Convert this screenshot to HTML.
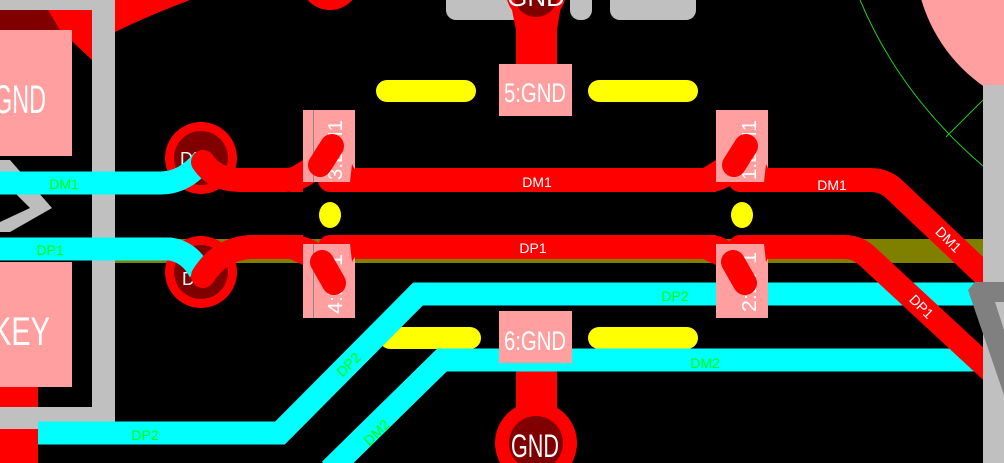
<!DOCTYPE html>
<html><head><meta charset="utf-8"><style>
html,body{margin:0;padding:0;background:#000;overflow:hidden}
svg{display:block}
text{font-family:"Liberation Sans",sans-serif}
</style></head><body>
<svg width="1004" height="463" viewBox="0 0 1004 463" xmlns="http://www.w3.org/2000/svg">
<rect width="1004" height="463" fill="#000"/>
<rect x="115" y="239" width="870" height="24" fill="#808000"/>
<path d="M115 0 L190 0 Q150 15 115 32 Z" fill="#f00"/>
<circle cx="330" cy="-20" r="30" fill="#f00"/>
<rect x="0" y="0" width="92" height="30" fill="#800000"/>
<path d="M48 10 L92 10 L92 60 L60 30 Z" fill="#f00"/>
<rect x="0" y="30" width="72" height="126" fill="#ff9f9f"/>
<rect x="0" y="262" width="72" height="125" fill="#ff9f9f"/>
<rect x="0" y="387" width="38" height="20" fill="#f00"/>
<rect x="0" y="428" width="38" height="35" fill="#f00"/>
<path d="M0 160 L10 160 L52 208 L10 232 L0 232 L0 222 L30 208 L0 178 Z" fill="#bdbdbd"/>
<rect x="92" y="0" width="23" height="430" fill="#c0c0c0"/>
<rect x="0" y="0" width="115" height="10" fill="#c0c0c0"/>
<rect x="0" y="407" width="115" height="22" fill="#c0c0c0"/>
<text x="-6" y="113" font-size="40" fill="#fff" textLength="52" lengthAdjust="spacingAndGlyphs">GND</text>
<text x="-8" y="345" font-size="40" fill="#fff" textLength="58" lengthAdjust="spacingAndGlyphs">KEY</text>
<rect x="446" y="-10" width="80" height="30" rx="10" fill="#c0c0c0"/>
<rect x="570" y="-10" width="22" height="30" rx="10" fill="#c0c0c0"/>
<rect x="610" y="-10" width="86" height="30" rx="10" fill="#c0c0c0"/>
<path d="M516 64 L516 30 L510 0 L562 0 L557 30 L557 64 Z" fill="#f00"/>
<circle cx="536" cy="-8" r="30" fill="#f00"/>
<circle cx="536" cy="-5" r="22" fill="#800000"/>
<text x="536" y="6" font-size="26" fill="#fff" text-anchor="middle">GND</text>
<rect x="516" y="360" width="41" height="60" fill="#f00"/>
<circle cx="536" cy="443" r="41" fill="#f00"/>
<circle cx="536" cy="443" r="27" fill="#800000"/>
<text x="535" y="457" font-size="32" fill="#fff" text-anchor="middle" textLength="48" lengthAdjust="spacingAndGlyphs">GND</text>
<g stroke="#ff0" stroke-width="22" stroke-linecap="round">
<line x1="387" y1="91" x2="465" y2="91"/>
<line x1="599" y1="91" x2="687" y2="91"/>
<line x1="390" y1="338" x2="470" y2="338"/>
<line x1="599" y1="338" x2="687" y2="338"/>
</g>
<ellipse cx="330" cy="215" rx="11" ry="13" fill="#ff0"/>
<ellipse cx="742" cy="215" rx="11" ry="13" fill="#ff0"/>
<g fill="none" stroke="#0ff" stroke-width="23">
<path d="M38 433 L280 433 L418 294 L985 294"/>
<path d="M330 470 L442 360 L985 360"/>
</g>
<circle cx="201" cy="158" r="36" fill="#f00"/>
<circle cx="201" cy="158" r="27" fill="#800000"/>
<circle cx="201" cy="272" r="36" fill="#f00"/>
<circle cx="201" cy="272" r="27" fill="#800000"/>
<text x="180" y="165" font-size="18" fill="#fff">DM</text>
<text x="182" y="285" font-size="18" fill="#fff">DP</text>
<path d="M0 183 L160 183 Q185 183 203 160" fill="none" stroke="#0ff" stroke-width="23"/>
<path d="M0 249 L170 249 Q190 252 200 272" fill="none" stroke="#0ff" stroke-width="23"/>
<!-- red traces under pads -->
<g fill="none" stroke="#f00" stroke-width="24" stroke-linecap="round" stroke-linejoin="round">
<path d="M203 162 Q215 180 240 180 L285 180 Q305 180 320 160"/>
<path d="M203 276 Q220 249 250 247 L290 247 Q310 247 322 262"/>
<path d="M330 180 L710 180 Q722 180 732 168"/>
<path d="M330 247 L710 247 Q720 247 728 256"/>
<path d="M740 180 L870 180 Q885 180 895 190 L990 280"/>
<path d="M740 247 L845 247 Q858 247 868 257 L990 370"/>
</g>
<rect x="303" y="110" width="52" height="72" fill="#ff9f9f"/>
<rect x="303" y="244" width="52" height="74" fill="#ff9f9f"/>
<rect x="716" y="110" width="52" height="72" fill="#ff9f9f"/>
<rect x="716" y="244" width="52" height="74" fill="#ff9f9f"/>
<!-- flares -->
<path d="M352 164 Q358 178 372 180 L372 192 L355 192 L350 182 Z" fill="#f00"/>
<path d="M352 262 Q358 249 372 247 L372 235 L355 235 L350 244 Z" fill="#f00"/>
<path d="M766 164 Q772 178 786 180 L786 192 L769 192 L764 182 Z" fill="#f00"/>
<path d="M766 262 Q772 249 786 247 L786 235 L769 235 L764 244 Z" fill="#f00"/>
<path d="M290 168 L303 160 L303 192 L290 192 Z" fill="#f00"/>
<path d="M290 259 L303 265 L303 235 L290 235 Z" fill="#f00"/>
<path d="M703 168 L716 160 L716 192 L703 192 Z" fill="#f00"/>
<path d="M703 259 L716 265 L716 235 L703 235 Z" fill="#f00"/>
<line x1="313.5" y1="110" x2="313.5" y2="182" stroke="#888" stroke-width="1"/>
<line x1="313.5" y1="244" x2="313.5" y2="318" stroke="#888" stroke-width="1"/>
<g font-size="20" fill="#fff">
<text transform="translate(342,180) rotate(-90)" textLength="60" lengthAdjust="spacingAndGlyphs">3:DM1</text>
<text transform="translate(342,314) rotate(-90)" textLength="60" lengthAdjust="spacingAndGlyphs">4:DP1</text>
<text transform="translate(756,180) rotate(-90)" textLength="60" lengthAdjust="spacingAndGlyphs">1:DM1</text>
<text transform="translate(756,312) rotate(-90)" textLength="60" lengthAdjust="spacingAndGlyphs">2:DP1</text>
</g>
<g stroke="#f00" stroke-width="24" stroke-linecap="round">
<line x1="320" y1="165" x2="332" y2="146"/>
<line x1="322" y1="262" x2="334" y2="283"/>
<line x1="734" y1="165" x2="746" y2="146"/>
<line x1="733" y1="262" x2="745" y2="283"/>
</g>
<rect x="499" y="64" width="73" height="52" fill="#ff9f9f"/>
<text x="535" y="102" font-size="27" fill="#fff" text-anchor="middle" textLength="62" lengthAdjust="spacingAndGlyphs">5:GND</text>
<rect x="499" y="311" width="73" height="52" fill="#ff9f9f"/>
<text x="535" y="350" font-size="27" fill="#fff" text-anchor="middle" textLength="62" lengthAdjust="spacingAndGlyphs">6:GND</text>
<circle cx="1075" cy="-45" r="160" fill="#ff9f9f"/>
<rect x="983" y="85" width="21" height="378" fill="#c0c0c0"/>
<path d="M860 0 Q900 95 983 166" fill="none" stroke="#2c2" stroke-width="1"/>
<line x1="946" y1="137" x2="983" y2="100" stroke="#2c2" stroke-width="1"/>
<path d="M968 290 L975 282 L1004 282 L1004 302 L995 302 L1004 330 L1004 395 Z" fill="#808080"/>
<g font-size="14" fill="#fff">
<text x="537" y="187" text-anchor="middle">DM1</text>
<text x="533" y="253" text-anchor="middle">DP1</text>
<text x="832" y="190" text-anchor="middle">DM1</text>
<text transform="translate(945,243) rotate(45)" text-anchor="middle">DM1</text>
<text transform="translate(918,310) rotate(45)" text-anchor="middle">DP1</text>
</g>
<g font-size="14" fill="#0f0">
<text x="64" y="189" text-anchor="middle">DM1</text>
<text x="50" y="255" text-anchor="middle">DP1</text>
<text x="145" y="440" text-anchor="middle">DP2</text>
<text x="675" y="301" text-anchor="middle">DP2</text>
<text x="705" y="368" text-anchor="middle">DM2</text>
<text transform="translate(352,368) rotate(-45)" text-anchor="middle">DP2</text>
<text transform="translate(380,436) rotate(-45)" text-anchor="middle">DM2</text>
</g>
</svg>
</body></html>
